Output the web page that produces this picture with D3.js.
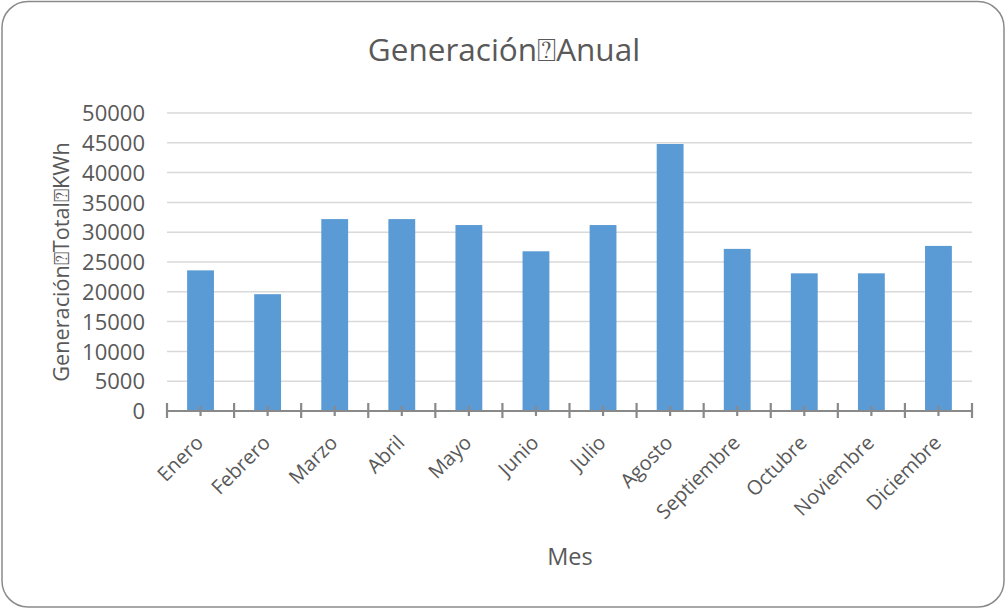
<!DOCTYPE html>
<html><head><meta charset="utf-8">
<script src="https://cdn.jsdelivr.net/npm/d3@7"></script>
<style>body{margin:0;background:#fff;} svg{display:block;}</style>
</head><body>
<svg id="c" width="1007" height="609"></svg>
<script>
const months = ["Enero","Febrero","Marzo","Abril","Mayo","Junio","Julio","Agosto","Septiembre","Octubre","Noviembre","Diciembre"];
const generation = [23600,19600,32200,32200,31200,26800,31200,44800,27200,23100,23100,27700];
const yTicks = [0,5000,10000,15000,20000,25000,30000,35000,40000,45000,50000];
const titleText = "Generación\u2370Anual";
const yTitleText = "Generación\u2370Total\u2370KWh";
const xTitleText = "Mes";

(function(){
const svg = d3.select("#c");
const font = "'Open Sans', sans-serif";
const textColor = "#595959";
const pLeft = 167, pRight = 972, pTop = 113, pBottom = 411;

svg.append("rect").attr("x",2).attr("y",1.5).attr("width",1002).attr("height",605.5)
  .attr("rx",26).attr("fill","#fff").attr("stroke","#8a8a8a").attr("stroke-width",1.5);

const x = d3.scaleBand().domain(months).range([pLeft,pRight]).paddingInner(0.6).paddingOuter(0.3);
const xc = d3.scaleBand().domain(months).range([pLeft,pRight]);
const y = d3.scaleLinear().domain([0,50000]).range([pBottom,pTop]);

svg.append("g").selectAll("line").data(yTicks.filter(d=>d>0)).join("line")
  .attr("x1",pLeft).attr("x2",pRight).attr("y1",d=>y(d)).attr("y2",d=>y(d))
  .attr("stroke","#d9d9d9").attr("stroke-width",1.5);

svg.append("g").selectAll("rect").data(generation).join("rect")
  .attr("x",(d,i)=>x(months[i])).attr("width",x.bandwidth())
  .attr("y",d=>y(d)).attr("height",d=>y(0)-y(d)).attr("fill","#5b9bd5");

const yAxis = d3.axisLeft(y).tickValues(yTicks).tickSize(0).tickPadding(0).tickFormat(d3.format("d"));
const yg = svg.append("g").attr("transform",`translate(145,0)`).call(yAxis);
yg.select(".domain").remove();
yg.selectAll("text").attr("font-family",font).attr("font-size",22).attr("fill",textColor).attr("dy","0.35em");

const ax = svg.append("g");
ax.append("line").attr("x1",pLeft).attr("x2",pRight).attr("y1",pBottom).attr("y2",pBottom)
  .attr("stroke","#898989").attr("stroke-width",2.2);
const bounds = months.map(m=>xc(m)).concat([pRight]);
ax.selectAll("line.maj").data(bounds).join("line").attr("class","maj")
  .attr("x1",d=>d).attr("x2",d=>d).attr("y1",pBottom-8).attr("y2",pBottom+7)
  .attr("stroke","#898989").attr("stroke-width",2.2);
ax.selectAll("line.min").data(months).join("line").attr("class","min")
  .attr("x1",d=>xc(d)+xc.bandwidth()/2).attr("x2",d=>xc(d)+xc.bandwidth()/2)
  .attr("y1",pBottom-5).attr("y2",pBottom+5)
  .attr("stroke","#898989").attr("stroke-width",2.2);

svg.append("g").selectAll("text").data(months).join("text")
  .attr("transform",d=>`translate(${xc(d)+xc.bandwidth()/2-1},${pBottom+28}) rotate(-45)`)
  .attr("text-anchor","end").attr("font-family",font).attr("font-size",20).attr("fill",textColor)
  .attr("dy","0.35em").text(d=>d);

svg.append("text").attr("x",504).attr("y",61).attr("text-anchor","middle")
  .attr("font-family",font).attr("font-size",31.5).attr("fill",textColor).text(titleText);
svg.append("text").attr("transform",`translate(69,262) rotate(-90)`).attr("text-anchor","middle")
  .attr("font-family",font).attr("font-size",21.7).attr("fill",textColor).text(yTitleText);
svg.append("text").attr("x",570).attr("y",565).attr("text-anchor","middle")
  .attr("font-family",font).attr("font-size",23.5).attr("fill",textColor).text(xTitleText);
})();
</script>
</body></html>
